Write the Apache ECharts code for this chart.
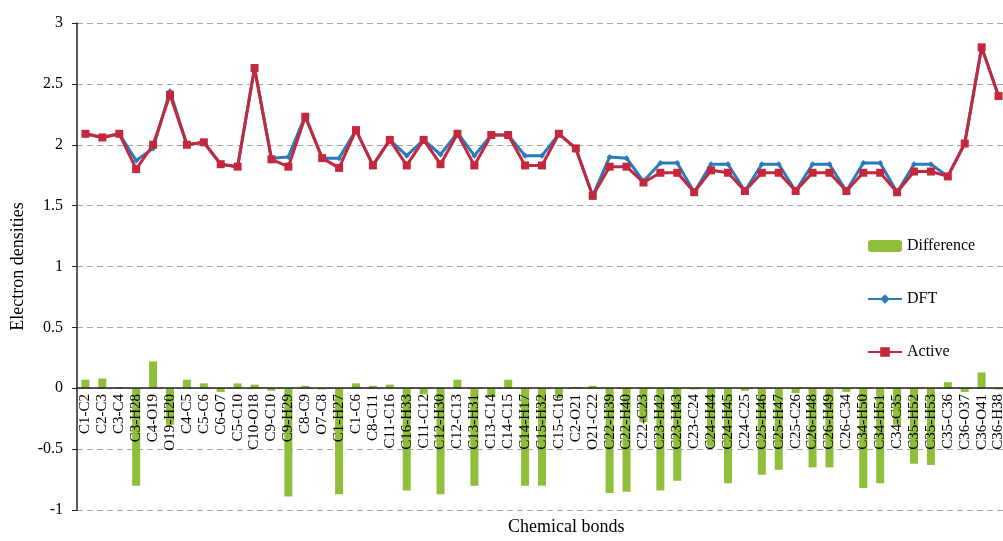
<!DOCTYPE html>
<html>
<head>
<meta charset="utf-8">
<script src="https://cdn.jsdelivr.net/npm/echarts@6/dist/echarts.min.js"></script>
<style>
	html, body { margin: 0; padding: 0; background: #fff; }
	#chart { width: 1003px; height: 541px; }
</style>
</head>
<body>
<div id="chart"></div>
<script>
const bonds = [
	'C1-C2', 'C2-C3', 'C3-C4', 'C3-H28', 'C4-O19', 'O19-H20', 'C4-C5', 'C5-C6', 'C6-O7', 'C5-C10',
	'C10-O18', 'C9-C10', 'C9-H29', 'C8-C9', 'O7-C8', 'C1-H27', 'C1-C6', 'C8-C11', 'C11-C16', 'C16-H33',
	'C11-C12', 'C12-H30', 'C12-C13', 'C13-H31', 'C13-C14', 'C14-C15', 'C14-H17', 'C15-H32', 'C15-C16', 'C2-O21',
	'O21-C22', 'C22-H39', 'C22-H40', 'C22-C23', 'C23-H42', 'C23-H43', 'C23-C24', 'C24-H44', 'C24-H45', 'C24-C25',
	'C25-H46', 'C25-H47', 'C25-C26', 'C26-H48', 'C26-H49', 'C26-C34', 'C34-H50', 'C34-H51', 'C34-C35', 'C35-H52',
	'C35-H53', 'C35-C36', 'C36-O37', 'C36-O41', 'C36-H38'
]

const difference = [
	0.07, 0.08, 0.01, -0.80, 0.22, -0.30, 0.07, 0.04, -0.03, 0.04,
	0.03, -0.02, -0.89, 0.02, -0.01, -0.87, 0.04, 0.02, 0.03, -0.84,
	-0.05, -0.87, 0.07, -0.80, -0.07, 0.07, -0.80, -0.80, -0.08, 0.01,
	0.02, -0.86, -0.85, -0.28, -0.84, -0.76, -0.01, -0.48, -0.78, -0.02,
	-0.71, -0.67, -0.04, -0.65, -0.65, -0.03, -0.82, -0.78, -0.30, -0.62,
	-0.63, 0.05, -0.03, 0.13, -0.01
]

const dft = [
	2.09, 2.06, 2.09, 1.87, 1.97, 2.44, 2.00, 2.02, 1.84, 1.82,
	2.63, 1.89, 1.90, 2.24, 1.89, 1.89, 2.12, 1.83, 2.04, 1.91,
	2.04, 1.92, 2.10, 1.91, 2.08, 2.08, 1.91, 1.91, 2.09, 1.97,
	1.58, 1.90, 1.89, 1.70, 1.85, 1.85, 1.61, 1.84, 1.84, 1.62,
	1.84, 1.84, 1.62, 1.84, 1.84, 1.62, 1.85, 1.85, 1.61, 1.84,
	1.84, 1.74, 2.01, 2.80, 2.40
]

const active = [
	2.09, 2.06, 2.09, 1.80, 2.00, 2.41, 2.00, 2.02, 1.84, 1.82,
	2.63, 1.88, 1.82, 2.23, 1.89, 1.81, 2.12, 1.83, 2.04, 1.83,
	2.04, 1.84, 2.09, 1.83, 2.08, 2.08, 1.83, 1.83, 2.09, 1.97,
	1.58, 1.82, 1.82, 1.69, 1.77, 1.77, 1.61, 1.79, 1.77, 1.62,
	1.77, 1.77, 1.62, 1.77, 1.77, 1.62, 1.77, 1.77, 1.61, 1.78,
	1.78, 1.74, 2.01, 2.80, 2.40
]

const serif = '"Liberation Serif", "Times New Roman", serif'

// grid 23..510 px for -1..3, so zero sits 122 px above the bottom edge
const options = {
	animation: false,
	textStyle: { fontFamily: serif },
	grid: { left: 77, right: -4, top: 23, bottom: 31, outerBoundsMode: 'none', containLabel: false },
	legend: {
		orient: 'vertical',
		left: 862,
		top: 233,
		itemWidth: 34,
		itemHeight: 12,
		itemGap: 37,
		textStyle: { fontFamily: serif, fontSize: 16, color: '#000' },
		data: ['Difference', 'DFT', 'Active']
	},
	xAxis: {
		type: 'category',
		data: bonds,
		position: 'bottom',
		offset: -122,
		z: 5,
		axisLine: { onZero: false, lineStyle: { color: '#222', width: 1.5 } },
		axisTick: { show: false },
		axisLabel: { rotate: 90, interval: 0, fontSize: 15, color: '#000', margin: 6, fontFamily: serif }
	},
	yAxis: {
		type: 'value',
		min: -1,
		max: 3,
		interval: 0.5,
		name: 'Electron densities',
		nameLocation: 'middle',
		nameGap: 46,
		nameTextStyle: { fontSize: 18, color: '#000', fontFamily: serif },
		axisLine: { show: true, lineStyle: { color: '#222', width: 1.5 } },
		axisTick: { show: true, length: 5, lineStyle: { color: '#222' } },
		axisLabel: { fontSize: 16, color: '#000', margin: 14, fontFamily: serif },
		splitLine: { lineStyle: { color: '#a6a6a6', type: [6, 4], width: 1.2 } }
	},
	graphic: [{
		type: 'text',
		left: 508,
		top: 518,
		style: { text: 'Chemical bonds', font: '18px ' + serif, fill: '#000' }
	}],
	series: [
		{
			name: 'Difference',
			type: 'bar',
			data: difference,
			barWidth: 8,
			itemStyle: { color: '#8fbe3a' }
		},
		{
			name: 'DFT',
			type: 'line',
			data: dft,
			symbol: 'diamond',
			symbolSize: 6,
			lineStyle: { color: '#2a7bbd', width: 3 },
			itemStyle: { color: '#2a7bbd' }
		},
		{
			name: 'Active',
			type: 'line',
			data: active,
			symbol: 'rect',
			symbolSize: 8,
			lineStyle: { color: '#c3283d', width: 3 },
			itemStyle: { color: '#c3283d' }
		}
	]
}

echarts.init(document.getElementById('chart')).setOption(options)
</script>
</body>
</html>
